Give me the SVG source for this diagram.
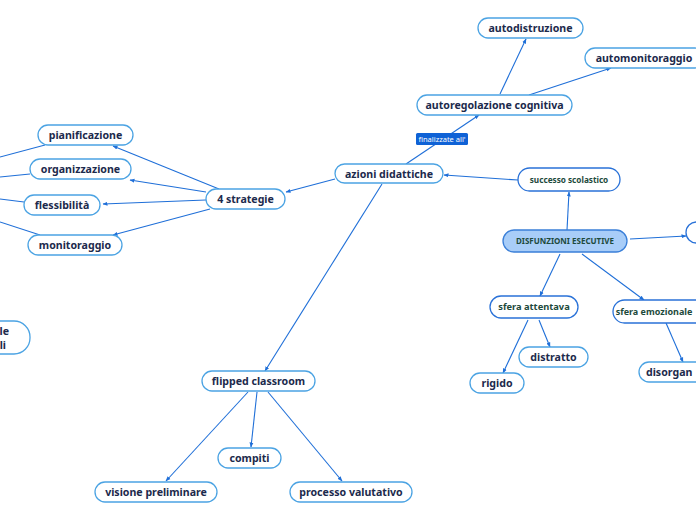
<svg xmlns="http://www.w3.org/2000/svg" width="696" height="520" viewBox="0 0 696 520">
<defs>
<marker id="ah" viewBox="0 0 10 10" refX="9" refY="5" markerWidth="5" markerHeight="5" orient="auto" markerUnits="userSpaceOnUse">
<path d="M0,1 L10,5 L0,9 z" fill="#1f6fd8"/>
</marker>
<style>
.n rect{fill:#fff;stroke:#4ba3e3;stroke-width:1.3}
.s rect{fill:#fff;stroke:#2a72d8;stroke-width:1.3}
.t{font-family:"Noto Sans","Open Sans",sans-serif;font-weight:700;font-size:10.6px;fill:#1c2a4c;text-anchor:middle}
.g{font-family:"Noto Sans","Open Sans",sans-serif;font-weight:700;font-size:8.5px;fill:#1d4a3c;text-anchor:middle}
#connectors line,#connectors path{stroke:#1f6fd8;stroke-width:1.1;fill:none}
.a{marker-end:url(#ah)}
</style>
</defs>
<rect width="696" height="520" fill="#fff"/>
<g id="connectors">
<line class="a" x1="500" y1="94" x2="526" y2="39"/>
<line class="a" x1="529" y1="95" x2="611" y2="68"/>
<line class="a" x1="406" y1="164" x2="479" y2="115"/>
<line class="a" x1="518" y1="180" x2="444" y2="175"/>
<line class="a" x1="567" y1="230" x2="569" y2="192"/>
<line class="a" x1="630" y1="239" x2="686" y2="236"/>
<line class="a" x1="560" y1="254" x2="540" y2="296"/>
<line class="a" x1="582" y1="254" x2="644" y2="300"/>
<line class="a" x1="539" y1="320" x2="550" y2="347"/>
<line class="a" x1="528" y1="320" x2="503" y2="373"/>
<line class="a" x1="666" y1="323" x2="683" y2="362"/>
<line class="a" x1="335" y1="179" x2="286" y2="192"/>
<line class="a" x1="219" y1="189" x2="113" y2="146"/>
<line class="a" x1="206" y1="192" x2="130" y2="180"/>
<line class="a" x1="206" y1="200" x2="103" y2="204"/>
<line class="a" x1="210" y1="209" x2="113" y2="235"/>
<line x1="45" y1="145" x2="0" y2="157"/>
<line x1="30" y1="174" x2="0" y2="177"/>
<line x1="24" y1="202" x2="0" y2="199"/>
<line x1="40" y1="235" x2="0" y2="222"/>
<line class="a" x1="382" y1="184" x2="265" y2="371"/>
<line class="a" x1="248" y1="392" x2="166" y2="481"/>
<line class="a" x1="257" y1="392" x2="251" y2="447"/>
<line class="a" x1="268" y1="392" x2="342" y2="481"/>
</g>
<g id="lbl-finalizzate">
<rect x="416" y="133" width="52" height="12" rx="1.5" fill="#0f62d6"/>
<text x="442" y="142" font-family="'Noto Sans','Open Sans',sans-serif" font-size="7.5" fill="#fff" text-anchor="middle">finalizzate all'</text>
</g>
<g id="n-autodistruzione" class="n"><rect x="478" y="18" width="105" height="20" rx="10"/><text class="t" x="530.5" y="32">autodistruzione</text></g>
<g id="n-automonitoraggio" class="n"><rect x="585" y="48" width="120" height="20" rx="10"/><text class="t" x="644" y="62">automonitoraggio</text></g>
<g id="n-autoregolazione" class="n"><rect x="417" y="95" width="155" height="20" rx="10"/><text class="t" x="494.5" y="109">autoregolazione cognitiva</text></g>
<g id="n-azioni" class="n"><rect x="335" y="164" width="108" height="19" rx="9.5"/><text class="t" x="389" y="178">azioni didattiche</text></g>
<g id="n-successo" class="s"><rect x="518" y="168" width="102" height="23" rx="11.5"/><text class="g" x="569" y="183" style="font-size:8.2px">successo scolastico</text></g>
<g id="n-disfunzioni"><rect x="503" y="230" width="124" height="22" rx="11" fill="#a8cdf8" stroke="#3a7fd8" stroke-width="1.3"/><text class="g" x="565" y="244" style="font-size:8px">DISFUNZIONI ESECUTIVE</text></g>
<g id="n-right" class="s"><rect x="686" y="222" width="40" height="21" rx="10.5"/></g>
<g id="n-attentava" class="s"><rect x="490" y="296" width="88" height="22" rx="11"/><text class="g" x="534" y="310" style="font-size:9.3px">sfera attentava</text></g>
<g id="n-emozionale" class="s"><rect x="613" y="300" width="100" height="23" rx="11.5"/><text class="g" x="654" y="315" style="font-size:9px">sfera emozionale</text></g>
<g id="n-distratto" class="n"><rect x="519" y="347" width="69" height="20" rx="10"/><text class="t" x="553.5" y="361">distratto</text></g>
<g id="n-rigido" class="n"><rect x="470" y="373" width="54" height="20" rx="10"/><text class="t" x="497" y="387">rigido</text></g>
<g id="n-disorgan" class="n"><rect x="639" y="362" width="80" height="20" rx="10"/><text class="t" x="646" y="376" style="text-anchor:start">disorgan</text></g>
<g id="n-strategie" class="n"><rect x="206" y="189" width="79" height="20" rx="10"/><text class="t" x="245.5" y="203">4 strategie</text></g>
<g id="n-pianificazione" class="n"><rect x="38" y="125" width="95" height="20" rx="10"/><text class="t" x="85.5" y="139">pianificazione</text></g>
<g id="n-organizzazione" class="n"><rect x="30" y="159" width="101" height="20" rx="10"/><text class="t" x="80.5" y="173">organizzazione</text></g>
<g id="n-flessibilita" class="n"><rect x="24" y="195" width="76" height="20" rx="10"/><text class="t" x="62" y="209">flessibilità</text></g>
<g id="n-monitoraggio" class="n"><rect x="28" y="235" width="94" height="20" rx="10"/><text class="t" x="75" y="249">monitoraggio</text></g>
<g id="n-left" class="n"><rect x="-70" y="321" width="100" height="33" rx="16"/><text class="t" x="9" y="335" style="text-anchor:end">le</text><text class="t" x="6" y="349" style="text-anchor:end">li</text></g>
<g id="n-flipped" class="n"><rect x="202" y="371" width="113" height="20" rx="10"/><text class="t" x="258.5" y="385">flipped classroom</text></g>
<g id="n-compiti" class="n"><rect x="218" y="448" width="63" height="20" rx="10"/><text class="t" x="249.5" y="462">compiti</text></g>
<g id="n-visione" class="n"><rect x="95" y="482" width="122" height="20" rx="10"/><text class="t" x="156" y="496">visione preliminare</text></g>
<g id="n-processo" class="n"><rect x="290" y="482" width="122" height="20" rx="10"/><text class="t" x="351" y="496">processo valutativo</text></g>
</svg>
